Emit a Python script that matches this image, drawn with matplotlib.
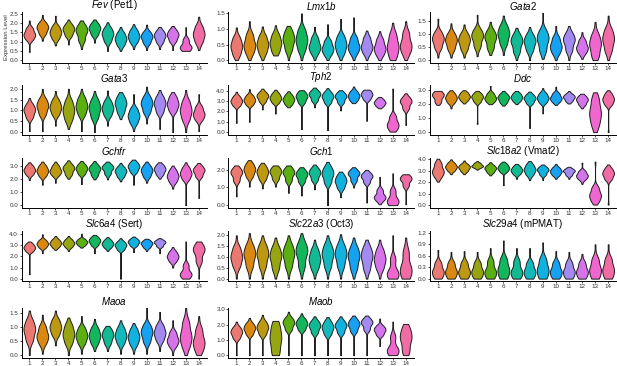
import numpy as np
import matplotlib; matplotlib.use("Agg")
import matplotlib.pyplot as plt
from matplotlib.colors import to_rgb
from matplotlib.ticker import MultipleLocator, FormatStrFormatter

plt.rcParams.update({"font.family": "Liberation Sans", "mathtext.fontset": "custom",
                     "mathtext.it": "Liberation Sans:italic", "mathtext.rm": "Liberation Sans",
                     "axes.linewidth": 0.7})

CLUSTERS = list(range(1, 15))
COLORS = ["#F8766D", "#E38900", "#C49A00", "#99A800", "#53B400", "#00BC56", "#00C094",
          "#00BFC4", "#00B6EB", "#06A4FF", "#A58AFF", "#DF70F8", "#FB61D7", "#FF66A8"]
# each violin: [min, lower body, mode, upper body, max]; relative cell counts at those levels
WEIGHTS = [1, 8, 12, 8, 1]

FEV = [[0.45,1.15,1.4,1.7,2.15],[1.05,1.45,1.75,2.0,2.45],[0.8,1.2,1.5,1.8,2.4],[0.85,1.35,1.65,1.9,2.2],
       [0.6,1.1,1.55,1.85,2.15],[0.95,1.4,1.7,1.95,2.2],[0.5,1.05,1.4,1.7,2.05],[0.5,0.85,1.15,1.45,1.8],
       [0.6,1.0,1.3,1.6,1.95],[0.55,0.95,1.25,1.5,1.92],[0.6,1.0,1.3,1.55,1.8],[0.55,1.05,1.35,1.6,1.85],
       [0.5,0.55,0.75,1.1,1.78],[0.55,1.0,1.4,1.8,2.35]]
LMX1B = [[0.0,0.2,0.45,0.7,1.05],[0.0,0.25,0.5,0.8,1.25],[0.0,0.25,0.5,0.75,1.08],[0.15,0.3,0.55,0.8,1.12],
         [0.0,0.35,0.65,0.9,1.1],[0.0,0.35,0.65,0.95,1.5],[0.0,0.25,0.45,0.7,1.07],[0.0,0.2,0.38,0.6,1.15],
         [0.0,0.25,0.5,0.75,1.32],[0.0,0.25,0.45,0.7,1.37],[0.0,0.25,0.45,0.7,0.95],[0.0,0.2,0.4,0.65,0.93],
         [0.0,0.15,0.45,0.8,1.2],[0.0,0.25,0.5,0.85,1.25]]
GATA2 = [[0.1,0.5,0.8,1.05,1.6],[0.1,0.45,0.75,1.0,1.42],[0.1,0.45,0.75,1.0,1.38],[0.15,0.55,0.9,1.15,1.75],
         [0.2,0.5,0.85,1.1,1.48],[0.2,0.65,1.0,1.3,1.72],[0.0,0.35,0.7,0.95,1.25],[0.0,0.4,0.7,0.95,1.28],
         [0.05,0.4,0.8,1.1,1.85],[0.0,0.3,0.55,0.85,1.32],[0.0,0.4,0.75,1.0,1.32],[0.05,0.3,0.5,0.75,1.08],
         [0.0,0.2,0.6,0.95,1.48],[0.0,0.4,0.8,1.15,1.72]]
GATA3 = [[0.05,0.7,1.0,1.25,1.58],[0.05,0.85,1.2,1.5,2.0],[0.3,0.85,1.15,1.45,1.9],[0.15,0.6,1.0,1.4,2.0],
         [0.05,0.85,1.2,1.55,2.0],[0.0,0.7,1.1,1.45,1.9],[0.3,0.8,1.1,1.4,1.92],[0.6,0.95,1.3,1.6,1.85],
         [0.05,0.45,0.75,1.05,1.75],[0.4,0.95,1.3,1.6,2.1],[0.15,0.95,1.3,1.6,1.95],[0.0,1.0,1.3,1.6,1.85],
         [0.0,0.6,1.0,1.4,1.95],[0.05,0.6,0.85,1.15,1.75]]
TPH2 = [[0.9,2.6,3.0,3.4,3.9],[1.0,2.7,3.1,3.5,4.15],[2.2,3.0,3.45,3.8,4.2],[1.8,2.9,3.3,3.7,4.1],
        [2.4,2.75,3.15,3.55,3.95],[0.3,2.9,3.4,3.8,4.05],[2.4,3.1,3.6,3.95,4.3],[0.2,2.9,3.4,3.8,4.25],
        [2.1,2.9,3.4,3.75,4.05],[2.8,3.1,3.5,3.9,4.4],[1.1,3.2,3.6,3.95,4.1],[2.3,2.55,2.85,3.15,3.4],
        [0.05,0.3,0.8,1.5,4.2],[0.7,2.3,2.9,3.3,3.75]]
DDC = [[1.95,2.2,2.6,2.85,2.95],[1.7,2.15,2.45,2.75,3.0],[2.05,2.3,2.55,2.8,3.0],[0.6,2.2,2.5,2.75,2.95],
       [2.0,2.2,2.45,2.75,3.3],[1.9,2.15,2.45,2.7,2.95],[2.0,2.25,2.5,2.75,2.95],[0.3,2.1,2.4,2.65,2.9],
       [1.35,2.15,2.45,2.75,3.15],[1.95,2.2,2.45,2.75,3.25],[2.05,2.25,2.5,2.7,2.95],[1.7,2.0,2.3,2.55,2.75],
       [0.0,0.6,1.4,2.3,2.85],[0.0,2.0,2.35,2.7,3.0]]
GCHFR = [[1.9,2.35,2.65,2.95,3.25],[1.55,2.25,2.6,2.95,3.3],[1.7,2.3,2.6,2.95,3.3],[2.0,2.35,2.75,3.05,3.4],
         [1.6,2.4,2.75,3.05,3.35],[1.95,2.3,2.7,3.0,3.35],[1.95,2.4,2.8,3.05,3.3],[1.8,2.2,2.55,2.85,3.2],
         [1.55,2.55,2.9,3.2,3.45],[1.7,2.2,2.6,2.95,3.3],[2.0,2.35,2.7,3.0,3.25],[1.25,1.8,2.2,2.6,3.0],
         [0.0,2.0,2.4,2.8,3.25],[0.55,2.2,2.6,2.9,3.2]]
GCH1 = [[0.5,1.4,1.8,2.05,2.25],[1.05,1.65,2.0,2.3,2.55],[0.95,1.5,1.85,2.15,2.4],[1.05,1.5,1.85,2.1,2.25],
        [0.7,1.4,1.8,2.05,2.25],[0.55,1.35,1.7,1.95,2.15],[0.9,1.45,1.8,2.05,2.3],[0.0,1.3,1.75,2.1,2.45],
        [0.45,1.0,1.35,1.65,1.9],[1.0,1.4,1.75,1.95,2.15],[0.15,1.3,1.6,1.8,2.0],[0.05,0.3,0.5,0.85,1.6],
        [0.0,0.05,0.3,0.8,1.8],[0.05,1.1,1.45,1.65,1.75]]
SLC18A2 = [[2.05,2.55,3.0,3.6,4.05],[2.7,3.05,3.35,3.65,4.0],[2.7,3.0,3.3,3.55,3.9],[3.1,3.3,3.45,3.65,3.85],
           [2.6,2.9,3.2,3.45,3.75],[1.75,2.95,3.25,3.55,3.8],[2.3,2.75,3.05,3.35,3.6],[2.2,2.7,3.1,3.5,3.85],
           [2.2,2.7,3.05,3.3,3.55],[2.3,2.65,2.95,3.25,3.6],[2.3,2.65,2.95,3.15,3.35],[1.85,2.3,2.6,2.95,3.7],
           [0.05,0.4,0.9,1.5,3.8],[0.05,2.3,2.75,3.15,3.55]]
SLC6A4 = [[0.4,2.5,2.8,3.1,3.35],[2.3,2.85,3.15,3.45,4.0],[2.6,2.9,3.2,3.5,3.85],[2.5,2.9,3.2,3.5,3.85],
          [2.8,3.05,3.3,3.55,4.05],[2.3,3.05,3.4,3.7,3.95],[2.5,2.85,3.15,3.45,3.75],[0.0,2.65,3.0,3.3,3.65],
          [2.4,3.0,3.3,3.55,3.8],[2.5,2.85,3.15,3.4,3.6],[2.3,2.95,3.25,3.45,3.65],[1.0,1.6,2.0,2.4,2.85],
          [0.0,0.15,0.5,1.2,3.35],[0.0,1.6,2.5,3.0,3.35]]
SLC22A3 = [[0.0,0.6,1.0,1.4,2.0],[0.0,0.6,1.1,1.5,2.1],[0.0,0.6,1.1,1.5,2.0],[0.0,0.5,1.0,1.4,1.9],
           [0.0,0.6,1.1,1.5,2.0],[0.0,0.6,1.2,1.6,2.1],[0.0,0.5,0.9,1.3,1.8],[0.0,0.6,1.1,1.5,2.0],
           [0.0,0.6,1.1,1.5,2.05],[0.0,0.5,1.0,1.4,1.9],[0.0,0.5,1.0,1.4,1.8],[0.0,0.5,0.9,1.3,1.8],
           [0.0,0.05,0.3,0.9,2.0],[0.0,0.1,0.5,1.2,1.9]]
SLC29A4 = [[0.0,0.05,0.2,0.4,0.75],[0.0,0.05,0.2,0.4,0.7],[0.0,0.05,0.2,0.4,0.72],[0.0,0.05,0.2,0.4,0.7],
           [0.0,0.05,0.2,0.45,0.8],[0.0,0.05,0.25,0.5,1.0],[0.0,0.05,0.2,0.45,0.8],[0.0,0.05,0.2,0.4,0.8],
           [0.0,0.05,0.25,0.5,0.95],[0.0,0.05,0.2,0.4,0.72],[0.0,0.05,0.2,0.4,0.7],[0.0,0.05,0.2,0.4,0.65],
           [0.0,0.05,0.25,0.5,0.9],[0.0,0.05,0.25,0.5,0.9]]
MAOA = [[0.0,0.55,0.9,1.2,1.6],[0.05,0.45,0.7,1.0,1.45],[0.35,0.75,1.0,1.25,1.6],[0.0,0.45,0.75,1.05,1.35],
        [0.05,0.45,0.7,0.95,1.4],[0.15,0.45,0.7,0.95,1.3],[0.15,0.45,0.7,0.9,1.05],[0.05,0.45,0.7,0.95,1.25],
        [0.05,0.4,0.65,0.9,1.15],[0.05,0.5,0.8,1.05,1.7],[0.15,0.55,0.8,1.05,1.55],[0.0,0.35,0.55,0.8,1.25],
        [0.0,0.35,0.7,1.15,1.7],[0.0,0.2,0.5,0.9,1.4]]
MAOB = [[0.0,1.15,1.5,1.8,2.2],[0.0,1.4,1.75,2.05,2.45],[0.0,1.4,1.8,2.15,2.65],[0.0,0.2,1.1,1.9,2.25],
        [0.0,1.7,2.1,2.4,2.85],[0.0,1.7,2.05,2.35,2.75],[0.0,1.5,1.9,2.2,2.55],[0.0,1.4,1.8,2.15,2.5],
        [0.0,1.5,1.9,2.2,2.55],[0.0,1.6,2.0,2.3,2.6],[0.0,1.7,2.1,2.35,2.6],[0.6,1.35,1.65,1.9,2.4],
        [0.0,0.1,0.4,1.2,2.2],[0.0,0.3,1.1,1.7,2.05]]

TITLES = [r"$\it{Fev}$ (Pet1)", r"$\it{Lmx1b}$", r"$\it{Gata2}$", r"$\it{Gata3}$", r"$\it{Tph2}$", r"$\it{Ddc}$",
          r"$\it{Gchfr}$", r"$\it{Gch1}$", r"$\it{Slc18a2}$ (Vmat2)", r"$\it{Slc6a4}$ (Sert)",
          r"$\it{Slc22a3}$ (Oct3)", r"$\it{Slc29a4}$ (mPMAT)", r"$\it{Maoa}$", r"$\it{Maob}$"]
PANELS = [FEV, LMX1B, GATA2, GATA3, TPH2, DDC, GCHFR, GCH1, SLC18A2, SLC6A4, SLC22A3, SLC29A4, MAOA, MAOB]
YSTEP = [0.5, 0.5, 0.5, 0.5, 1, 1, 1, 1, 1, 1, 0.5, 0.3, 0.5, 1]
YTOP = [2.58, 1.53, 1.84, 2.2, 4.6, 3.41, 3.61, 2.7, 4.16, 4.3, 2.2, 1.25, 1.71, 3.13]

W, H = 617, 366
COL_L = [21.5, 228.5, 430]; COL_W = [185, 185, 186]
ROW_T = [12.5, 84.5, 157.5, 231, 307.5]; PH = 50

def bw(kde):
    d = kde.dataset.ravel()
    q1, q3 = np.percentile(d, [25, 75])
    return max(0.26 * (q3 - q1), 0.035) / np.std(d, ddof=1)

def soften(c, f=0.12):
    rgb = np.array(to_rgb(c)); return tuple(rgb * (1 - f) + np.array([0.55, 0.55, 0.55]) * f)

fig = plt.figure(figsize=(W / 100, H / 100), dpi=100)
for k, (vals, title) in enumerate(zip(PANELS, TITLES)):
    r, c = divmod(k, 3)
    ax = fig.add_axes([COL_L[c] / W, 1 - (ROW_T[r] + PH) / H, COL_W[c] / W, PH / H])
    data = [np.repeat(v, WEIGHTS) for v in vals]
    parts = ax.violinplot(data, positions=CLUSTERS, widths=0.9, showextrema=False, bw_method=bw, points=300)
    for body, col in zip(parts["bodies"], COLORS):
        body.set_facecolor(soften(col)); body.set_edgecolor("#1e1e1e"); body.set_linewidth(0.7); body.set_alpha(1)
    ax.set_xlim(0.4, 14.6); ax.set_ylim(-0.05 * YTOP[k], YTOP[k])
    ax.set_xticks(CLUSTERS); ax.set_xticklabels([str(i) for i in CLUSTERS])
    ax.yaxis.set_major_locator(MultipleLocator(YSTEP[k]))
    ax.yaxis.set_major_formatter(FormatStrFormatter("%.1f"))
    ax.tick_params(labelsize=4.5, length=1.5, width=0.6, pad=1, colors="#333333")
    for s in ["top", "right"]: ax.spines[s].set_visible(False)
    ax.set_title(title, fontsize=7, pad=2)
    if k == 0:
        ax.set_ylabel("Expression Level", fontsize=4.3, color="#333333")
        ax.yaxis.set_label_coords((9.5 - COL_L[0]) / COL_W[0], 0.5)

fig.savefig("out.png", dpi=100)
